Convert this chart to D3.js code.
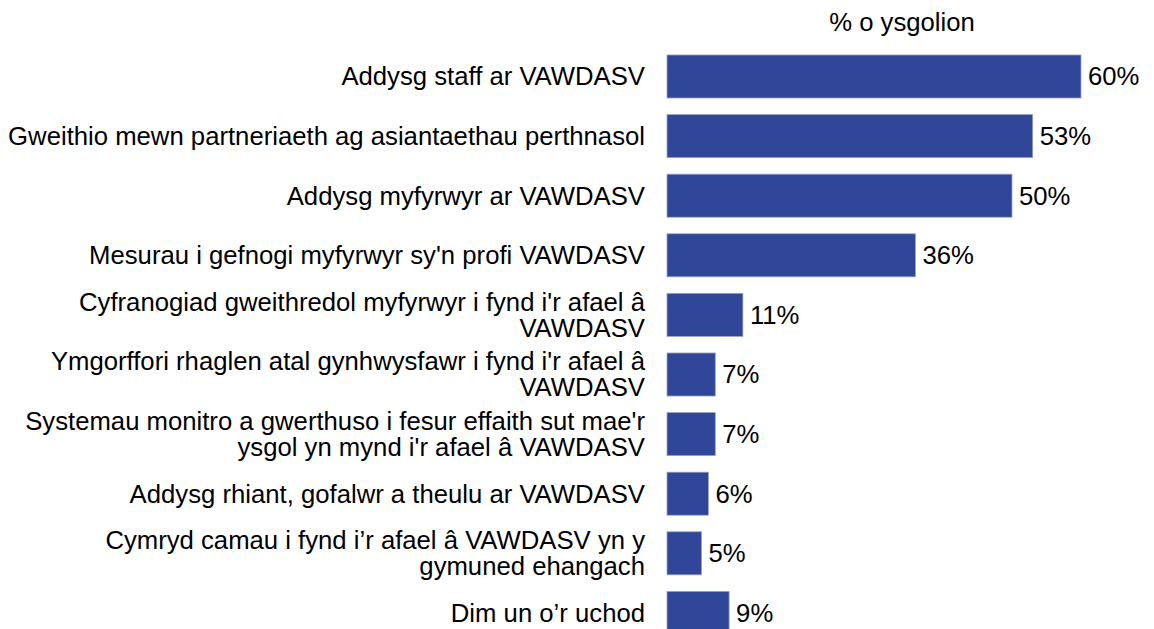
<!DOCTYPE html>
<html>
<head>
<meta charset="utf-8">
<script src="https://cdn.jsdelivr.net/npm/d3@7"></script>
<style>
  body { margin: 0; background: #fff; }
  svg { display: block; }
</style>
</head>
<body>
<div id="chart"></div>
<script>
// categories (each label split into lines as in the original)
const categories = [
  ["Addysg staff ar VAWDASV"],
  ["Gweithio mewn partneriaeth ag asiantaethau perthnasol"],
  ["Addysg myfyrwyr ar VAWDASV"],
  ["Mesurau i gefnogi myfyrwyr sy'n profi VAWDASV"],
  ["Cyfranogiad gweithredol myfyrwyr i fynd i'r afael â", "VAWDASV"],
  ["Ymgorffori rhaglen atal gynhwysfawr i fynd i'r afael â", "VAWDASV"],
  ["Systemau monitro a gwerthuso i fesur effaith sut mae'r", "ysgol yn mynd i'r afael â VAWDASV"],
  ["Addysg rhiant, gofalwr a theulu ar VAWDASV"],
  ["Cymryd camau i fynd i’r afael â VAWDASV yn y", "gymuned ehangach"],
  ["Dim un o’r uchod"]
];
const values = [60, 53, 50, 36, 11, 7, 7, 6, 5, 9];
const title = "% o ysgolion";

const width = 1154, height = 629;
const font = "'Liberation Sans', Arial, sans-serif";
const fs = "25.7px";

const svg = d3.select("#chart")
  .append("svg")
  .attr("width", width)
  .attr("height", height)
  .style("font-family", font);

const keys = categories.map((c, i) => i);

const x = d3.scaleLinear()
  .domain([0, 60])
  .range([667, 1081]);

const y = d3.scaleBand()
  .domain(keys)
  .range([46.7, 642.7])
  .paddingInner(0.278)
  .paddingOuter(0.139);

// title
svg.append("text")
  .attr("x", 902)
  .attr("y", 31)
  .attr("text-anchor", "middle")
  .attr("font-size", fs)
  .attr("fill", "#000")
  .text(title);

// bars
svg.selectAll("rect.bar")
  .data(values)
  .enter()
  .append("rect")
  .attr("class", "bar")
  .attr("x", x(0))
  .attr("y", (d, i) => y(i))
  .attr("width", (d) => x(d) - x(0))
  .attr("height", y.bandwidth())
  .attr("fill", "#2f4699")
  .attr("stroke", "#9aa3c4")
  .attr("stroke-width", 0.8);

// value labels
svg.selectAll("text.value")
  .data(values)
  .enter()
  .append("text")
  .attr("class", "value")
  .attr("x", (d) => x(d) + 7)
  .attr("y", (d, i) => y(i) + y.bandwidth() / 2)
  .attr("dy", "0.35em")
  .attr("font-size", fs)
  .attr("fill", "#000")
  .text((d) => d + "%");

// category labels
const lineH = 26;
const labels = svg.selectAll("text.cat")
  .data(categories)
  .enter()
  .append("text")
  .attr("class", "cat")
  .attr("text-anchor", "end")
  .attr("font-size", fs)
  .attr("fill", "#000");

labels.each(function (lines, i) {
  const cy = y(i) + y.bandwidth() / 2;
  const top = cy - (lines.length - 1) * lineH / 2;
  d3.select(this).selectAll("tspan")
    .data(lines)
    .enter()
    .append("tspan")
    .attr("x", 645)
    .attr("y", (d, j) => top + j * lineH)
    .attr("dy", "0.35em")
    .text((d) => d);
});
</script>
</body>
</html>
